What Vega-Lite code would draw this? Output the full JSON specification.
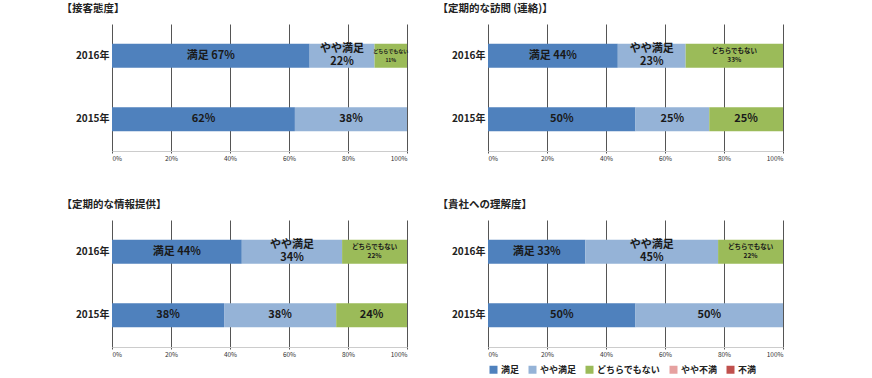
{
  "$schema": "https://vega.github.io/schema/vega-lite/v6.json",
  "padding": {"left": 61, "top": 3, "right": 0, "bottom": 0},
  "background": "white",
  "spacing": {"row": 37, "column": 28},
  "config": {
    "font": "Noto Sans CJK JP",
    "view": {"stroke": null},
    "title": {"fontSize": 10.5, "fontWeight": "bold", "color": "#222222", "anchor": "start", "frame": "bounds", "dx": -14, "offset": 10},
    "legend": {"symbolType": "square", "symbolSize": 64, "symbolStrokeWidth": 0, "labelFontSize": 9, "labelFontWeight": "bold", "labelColor": "#222222", "columnPadding": 8, "labelOffset": 3}
  },
  "data": {"values": [
    {"panel": "接客態度", "year": "2016年", "cat": "満足", "value": 67},
    {"panel": "接客態度", "year": "2016年", "cat": "やや満足", "value": 22},
    {"panel": "接客態度", "year": "2016年", "cat": "どちらでもない", "value": 11},
    {"panel": "接客態度", "year": "2015年", "cat": "満足", "value": 62},
    {"panel": "接客態度", "year": "2015年", "cat": "やや満足", "value": 38},
    {"panel": "定期的な訪問", "year": "2016年", "cat": "満足", "value": 44},
    {"panel": "定期的な訪問", "year": "2016年", "cat": "やや満足", "value": 23},
    {"panel": "定期的な訪問", "year": "2016年", "cat": "どちらでもない", "value": 33},
    {"panel": "定期的な訪問", "year": "2015年", "cat": "満足", "value": 50},
    {"panel": "定期的な訪問", "year": "2015年", "cat": "やや満足", "value": 25},
    {"panel": "定期的な訪問", "year": "2015年", "cat": "どちらでもない", "value": 25},
    {"panel": "定期的な情報提供", "year": "2016年", "cat": "満足", "value": 44},
    {"panel": "定期的な情報提供", "year": "2016年", "cat": "やや満足", "value": 34},
    {"panel": "定期的な情報提供", "year": "2016年", "cat": "どちらでもない", "value": 22},
    {"panel": "定期的な情報提供", "year": "2015年", "cat": "満足", "value": 38},
    {"panel": "定期的な情報提供", "year": "2015年", "cat": "やや満足", "value": 38},
    {"panel": "定期的な情報提供", "year": "2015年", "cat": "どちらでもない", "value": 24},
    {"panel": "貴社への理解度", "year": "2016年", "cat": "満足", "value": 33},
    {"panel": "貴社への理解度", "year": "2016年", "cat": "やや満足", "value": 45},
    {"panel": "貴社への理解度", "year": "2016年", "cat": "どちらでもない", "value": 22},
    {"panel": "貴社への理解度", "year": "2015年", "cat": "満足", "value": 50},
    {"panel": "貴社への理解度", "year": "2015年", "cat": "やや満足", "value": 50}
  ]},
  "columns": 2,
  "concat": [
    {
      "title": "【接客態度】",
      "width": 295, "height": 127,
      "transform": [
        {"filter": "datum.panel == '接客態度'"},
        {"calculate": "indexof(['満足','やや満足','どちらでもない','やや不満','不満'], datum.cat)", "as": "o"},
        {"stack": "value", "groupby": ["year"], "sort": [{"field": "o", "order": "ascending"}], "as": ["v0", "v1"]},
        {"calculate": "(datum.v0 + datum.v1) / 2", "as": "mid"},
        {"calculate": "datum.year == '2016年' ? (datum.cat == '満足' ? '満足 ' + datum.value + '%' : datum.cat + '\\n' + datum.value + '%') : datum.value + '%'", "as": "label"}
      ],
      "encoding": {
        "y": {"field": "year", "type": "nominal", "sort": ["2016年", "2015年"], "scale": {"paddingInner": 0.62, "paddingOuter": 0.31}, "axis": {"title": null, "ticks": false, "domain": false, "labelFontSize": 10, "labelFontWeight": "bold", "labelColor": "#222222", "labelPadding": 3}}
      },
      "layer": [
        {"mark": {"type": "bar"},
         "encoding": {
           "x": {"field": "v0", "type": "quantitative", "scale": {"domain": [0, 100], "nice": false}, "axis": {"title": null, "values": [0,10,20,30,40,50,60,70,80,90,100], "labelExpr": "datum.value % 20 == 0 ? datum.value + '%' : ''", "grid": true, "gridColor": "#555555", "gridWidth": 1, "tickSize": 2, "tickColor": "#555555", "domainColor": "#cccccc", "labelFontSize": 6.5, "labelColor": "#333333", "labelPadding": 2}},
           "x2": {"field": "v1"},
           "color": {"field": "cat", "type": "nominal", "scale": {"domain": ["満足", "やや満足", "どちらでもない", "やや不満", "不満"], "range": ["#4F81BD", "#95B3D7", "#9BBB59", "#E6A1A0", "#C0504D"]}, "legend": {"orient": "none", "direction": "horizontal", "title": null, "legendX": 377, "legendY": 341}}
         }},
        {"transform": [{"filter": "datum.year == '2015年' || datum.cat == '満足'"}],
         "mark": {"type": "text", "fontSize": 11, "fontWeight": "bold", "color": "#1a1a1a"},
         "encoding": {"x": {"field": "mid", "type": "quantitative"}, "text": {"field": "label"}}},
        {"transform": [{"filter": "datum.year == '2016年' && datum.cat == 'やや満足'"}],
         "mark": {"type": "text", "fontSize": 11, "fontWeight": "bold", "color": "#1a1a1a", "lineBreak": "\n", "lineHeight": 13, "dy": -6.5},
         "encoding": {"x": {"field": "mid", "type": "quantitative"}, "text": {"field": "label"}}},
        {"transform": [{"filter": "datum.year == '2016年' && datum.cat == 'どちらでもない'"}],
         "mark": {"type": "text", "fontSize": {"expr": "datum.value < 15 ? 5 : 6.5"}, "fontWeight": "bold", "color": "#1a1a1a", "lineBreak": "\n", "lineHeight": 9, "dy": -4.5},
         "encoding": {"x": {"field": "mid", "type": "quantitative"}, "text": {"field": "label"}}}
      ]
    },
    {
      "title": "【定期的な訪問 (連絡)】",
      "width": 295, "height": 127,
      "transform": [
        {"filter": "datum.panel == '定期的な訪問'"},
        {"calculate": "indexof(['満足','やや満足','どちらでもない','やや不満','不満'], datum.cat)", "as": "o"},
        {"stack": "value", "groupby": ["year"], "sort": [{"field": "o", "order": "ascending"}], "as": ["v0", "v1"]},
        {"calculate": "(datum.v0 + datum.v1) / 2", "as": "mid"},
        {"calculate": "datum.year == '2016年' ? (datum.cat == '満足' ? '満足 ' + datum.value + '%' : datum.cat + '\\n' + datum.value + '%') : datum.value + '%'", "as": "label"}
      ],
      "encoding": {
        "y": {"field": "year", "type": "nominal", "sort": ["2016年", "2015年"], "scale": {"paddingInner": 0.62, "paddingOuter": 0.31}, "axis": {"title": null, "ticks": false, "domain": false, "labelFontSize": 10, "labelFontWeight": "bold", "labelColor": "#222222", "labelPadding": 3}}
      },
      "layer": [
        {"mark": {"type": "bar"},
         "encoding": {
           "x": {"field": "v0", "type": "quantitative", "scale": {"domain": [0, 100], "nice": false}, "axis": {"title": null, "values": [0,10,20,30,40,50,60,70,80,90,100], "labelExpr": "datum.value % 20 == 0 ? datum.value + '%' : ''", "grid": true, "gridColor": "#555555", "gridWidth": 1, "tickSize": 2, "tickColor": "#555555", "domainColor": "#cccccc", "labelFontSize": 6.5, "labelColor": "#333333", "labelPadding": 2}},
           "x2": {"field": "v1"},
           "color": {"field": "cat", "type": "nominal", "scale": {"domain": ["満足", "やや満足", "どちらでもない", "やや不満", "不満"], "range": ["#4F81BD", "#95B3D7", "#9BBB59", "#E6A1A0", "#C0504D"]}, "legend": {"orient": "none", "direction": "horizontal", "title": null, "legendX": 377, "legendY": 341}}
         }},
        {"transform": [{"filter": "datum.year == '2015年' || datum.cat == '満足'"}],
         "mark": {"type": "text", "fontSize": 11, "fontWeight": "bold", "color": "#1a1a1a"},
         "encoding": {"x": {"field": "mid", "type": "quantitative"}, "text": {"field": "label"}}},
        {"transform": [{"filter": "datum.year == '2016年' && datum.cat == 'やや満足'"}],
         "mark": {"type": "text", "fontSize": 11, "fontWeight": "bold", "color": "#1a1a1a", "lineBreak": "\n", "lineHeight": 13, "dy": -6.5},
         "encoding": {"x": {"field": "mid", "type": "quantitative"}, "text": {"field": "label"}}},
        {"transform": [{"filter": "datum.year == '2016年' && datum.cat == 'どちらでもない'"}],
         "mark": {"type": "text", "fontSize": {"expr": "datum.value < 15 ? 5 : 6.5"}, "fontWeight": "bold", "color": "#1a1a1a", "lineBreak": "\n", "lineHeight": 9, "dy": -4.5},
         "encoding": {"x": {"field": "mid", "type": "quantitative"}, "text": {"field": "label"}}}
      ]
    },
    {
      "title": "【定期的な情報提供】",
      "width": 295, "height": 127,
      "transform": [
        {"filter": "datum.panel == '定期的な情報提供'"},
        {"calculate": "indexof(['満足','やや満足','どちらでもない','やや不満','不満'], datum.cat)", "as": "o"},
        {"stack": "value", "groupby": ["year"], "sort": [{"field": "o", "order": "ascending"}], "as": ["v0", "v1"]},
        {"calculate": "(datum.v0 + datum.v1) / 2", "as": "mid"},
        {"calculate": "datum.year == '2016年' ? (datum.cat == '満足' ? '満足 ' + datum.value + '%' : datum.cat + '\\n' + datum.value + '%') : datum.value + '%'", "as": "label"}
      ],
      "encoding": {
        "y": {"field": "year", "type": "nominal", "sort": ["2016年", "2015年"], "scale": {"paddingInner": 0.62, "paddingOuter": 0.31}, "axis": {"title": null, "ticks": false, "domain": false, "labelFontSize": 10, "labelFontWeight": "bold", "labelColor": "#222222", "labelPadding": 3}}
      },
      "layer": [
        {"mark": {"type": "bar"},
         "encoding": {
           "x": {"field": "v0", "type": "quantitative", "scale": {"domain": [0, 100], "nice": false}, "axis": {"title": null, "values": [0,10,20,30,40,50,60,70,80,90,100], "labelExpr": "datum.value % 20 == 0 ? datum.value + '%' : ''", "grid": true, "gridColor": "#555555", "gridWidth": 1, "tickSize": 2, "tickColor": "#555555", "domainColor": "#cccccc", "labelFontSize": 6.5, "labelColor": "#333333", "labelPadding": 2}},
           "x2": {"field": "v1"},
           "color": {"field": "cat", "type": "nominal", "scale": {"domain": ["満足", "やや満足", "どちらでもない", "やや不満", "不満"], "range": ["#4F81BD", "#95B3D7", "#9BBB59", "#E6A1A0", "#C0504D"]}, "legend": {"orient": "none", "direction": "horizontal", "title": null, "legendX": 377, "legendY": 341}}
         }},
        {"transform": [{"filter": "datum.year == '2015年' || datum.cat == '満足'"}],
         "mark": {"type": "text", "fontSize": 11, "fontWeight": "bold", "color": "#1a1a1a"},
         "encoding": {"x": {"field": "mid", "type": "quantitative"}, "text": {"field": "label"}}},
        {"transform": [{"filter": "datum.year == '2016年' && datum.cat == 'やや満足'"}],
         "mark": {"type": "text", "fontSize": 11, "fontWeight": "bold", "color": "#1a1a1a", "lineBreak": "\n", "lineHeight": 13, "dy": -6.5},
         "encoding": {"x": {"field": "mid", "type": "quantitative"}, "text": {"field": "label"}}},
        {"transform": [{"filter": "datum.year == '2016年' && datum.cat == 'どちらでもない'"}],
         "mark": {"type": "text", "fontSize": {"expr": "datum.value < 15 ? 5 : 6.5"}, "fontWeight": "bold", "color": "#1a1a1a", "lineBreak": "\n", "lineHeight": 9, "dy": -4.5},
         "encoding": {"x": {"field": "mid", "type": "quantitative"}, "text": {"field": "label"}}}
      ]
    },
    {
      "title": "【貴社への理解度】",
      "width": 295, "height": 127,
      "transform": [
        {"filter": "datum.panel == '貴社への理解度'"},
        {"calculate": "indexof(['満足','やや満足','どちらでもない','やや不満','不満'], datum.cat)", "as": "o"},
        {"stack": "value", "groupby": ["year"], "sort": [{"field": "o", "order": "ascending"}], "as": ["v0", "v1"]},
        {"calculate": "(datum.v0 + datum.v1) / 2", "as": "mid"},
        {"calculate": "datum.year == '2016年' ? (datum.cat == '満足' ? '満足 ' + datum.value + '%' : datum.cat + '\\n' + datum.value + '%') : datum.value + '%'", "as": "label"}
      ],
      "encoding": {
        "y": {"field": "year", "type": "nominal", "sort": ["2016年", "2015年"], "scale": {"paddingInner": 0.62, "paddingOuter": 0.31}, "axis": {"title": null, "ticks": false, "domain": false, "labelFontSize": 10, "labelFontWeight": "bold", "labelColor": "#222222", "labelPadding": 3}}
      },
      "layer": [
        {"mark": {"type": "bar"},
         "encoding": {
           "x": {"field": "v0", "type": "quantitative", "scale": {"domain": [0, 100], "nice": false}, "axis": {"title": null, "values": [0,10,20,30,40,50,60,70,80,90,100], "labelExpr": "datum.value % 20 == 0 ? datum.value + '%' : ''", "grid": true, "gridColor": "#555555", "gridWidth": 1, "tickSize": 2, "tickColor": "#555555", "domainColor": "#cccccc", "labelFontSize": 6.5, "labelColor": "#333333", "labelPadding": 2}},
           "x2": {"field": "v1"},
           "color": {"field": "cat", "type": "nominal", "scale": {"domain": ["満足", "やや満足", "どちらでもない", "やや不満", "不満"], "range": ["#4F81BD", "#95B3D7", "#9BBB59", "#E6A1A0", "#C0504D"]}, "legend": {"orient": "none", "direction": "horizontal", "title": null, "legendX": 377, "legendY": 341}}
         }},
        {"transform": [{"filter": "datum.year == '2015年' || datum.cat == '満足'"}],
         "mark": {"type": "text", "fontSize": 11, "fontWeight": "bold", "color": "#1a1a1a"},
         "encoding": {"x": {"field": "mid", "type": "quantitative"}, "text": {"field": "label"}}},
        {"transform": [{"filter": "datum.year == '2016年' && datum.cat == 'やや満足'"}],
         "mark": {"type": "text", "fontSize": 11, "fontWeight": "bold", "color": "#1a1a1a", "lineBreak": "\n", "lineHeight": 13, "dy": -6.5},
         "encoding": {"x": {"field": "mid", "type": "quantitative"}, "text": {"field": "label"}}},
        {"transform": [{"filter": "datum.year == '2016年' && datum.cat == 'どちらでもない'"}],
         "mark": {"type": "text", "fontSize": {"expr": "datum.value < 15 ? 5 : 6.5"}, "fontWeight": "bold", "color": "#1a1a1a", "lineBreak": "\n", "lineHeight": 9, "dy": -4.5},
         "encoding": {"x": {"field": "mid", "type": "quantitative"}, "text": {"field": "label"}}}
      ]
    }
  ]
}
